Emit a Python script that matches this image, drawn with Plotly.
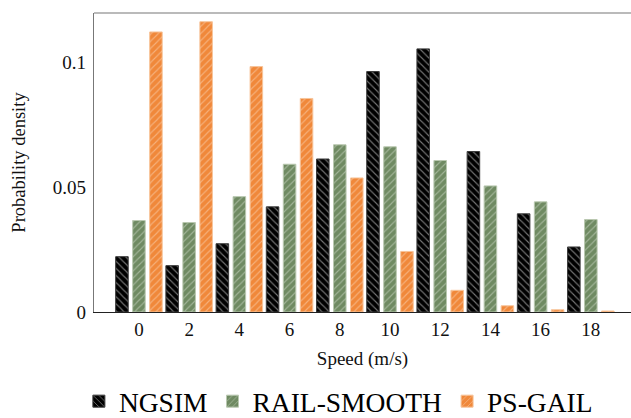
import plotly.graph_objects as go

speeds = [0, 2, 4, 6, 8, 10, 12, 14, 16, 18]
ngsim = [0.0222, 0.0186, 0.0274, 0.0422, 0.0614, 0.0965, 0.1056, 0.0644, 0.0394, 0.0261]
rail_smooth = [0.0367, 0.0359, 0.0463, 0.0593, 0.0671, 0.0663, 0.0608, 0.0506, 0.0442, 0.0371]
ps_gail = [0.1124, 0.1165, 0.0985, 0.0857, 0.0538, 0.0243, 0.0087, 0.0025, 0.0009, 0.0004]
y_ticks = [0, 0.05, 0.1]
y_tick_labels = ["0", "0.05", "0.1"]

SERIF = "'Liberation Serif', 'Times New Roman', Times, serif"

series = [
    ("NGSIM", ngsim, "#000000", "#3a3a3a", "#e8e8e8", "\\", -0.927),
    ("RAIL-SMOOTH", rail_smooth, "#6f8a62", "#b9c8b0", "#d5dfcf", "/", -0.25),
    ("PS-GAIL", ps_gail, "#f0883a", "#f7c49a", "#fbd9bd", "/", 0.427),
]

fig = go.Figure()
for name, vals, col, edge, fg, shape, off in series:
    fig.add_trace(go.Bar(
        x=speeds, y=vals, name=name,
        offset=off, width=0.5,
        marker=dict(
            color=col,
            line=dict(color=edge, width=1),
            pattern=dict(shape=shape, fgcolor=fg, bgcolor=col, size=5,
                         solidity=0.22, fillmode="overlay"),
        ),
    ))

fig.update_layout(
    width=631, height=418,
    margin=dict(l=94, r=0, t=13, b=106, autoexpand=False),
    paper_bgcolor="white", plot_bgcolor="white",
    barmode="overlay",
    font=dict(family=SERIF, color="#111111"),
    showlegend=True,
    legend=dict(
        orientation="h", xref="container", x=0.125, xanchor="left",
        yref="container", y=0.04, yanchor="middle",
        font=dict(size=27.5, family=SERIF, color="#000000"),
        itemwidth=30, traceorder="normal", bgcolor="rgba(0,0,0,0)",
    ),
    xaxis=dict(
        range=[-1.79, 19.6], automargin=False,
        tickmode="array", tickvals=speeds, ticktext=[str(s) for s in speeds],
        tickfont=dict(size=19, family=SERIF), ticks="", showgrid=False, zeroline=False,
        showline=True, linecolor="#222222", linewidth=1.2,
        title=dict(text="Speed (m/s)", font=dict(size=19, family=SERIF), standoff=12),
    ),
    yaxis=dict(
        range=[0, 0.12], automargin=False,
        tickmode="array", tickvals=y_ticks, ticktext=y_tick_labels,
        tickfont=dict(size=19, family=SERIF), ticks="", showgrid=False, zeroline=False,
        ticklabelstandoff=3,
        showline=True, linecolor="#777777", linewidth=1.2,
        title=dict(text="Probability density", font=dict(size=18.5, family=SERIF), standoff=22),
    ),
    shapes=[dict(type="line", xref="paper", yref="paper", x0=0, x1=1, y0=1, y1=1,
                 line=dict(color="#777777", width=1.2))],
)

fig.write_html("out.html", config={"displayModeBar": False},
               post_script="document.body.style.margin='0';document.body.style.overflow='hidden';")
